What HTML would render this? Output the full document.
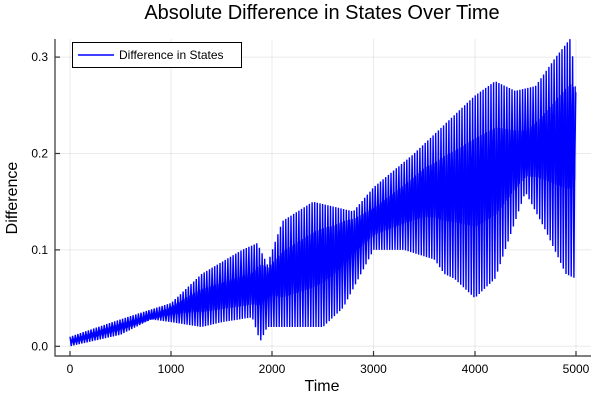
<!DOCTYPE html>
<html><head><style>body{margin:0;background:#fff}svg{display:block;font-family:"Liberation Sans","DejaVu Sans",sans-serif}</style></head>
<body>
<svg id="s" width="600" height="400" xmlns="http://www.w3.org/2000/svg">
<rect width="600" height="400" fill="#fff"/>
<g stroke="#000" stroke-opacity="0.08" stroke-width="1">
<line x1="70" y1="39" x2="70" y2="356"/><line x1="171" y1="39" x2="171" y2="356"/><line x1="272" y1="39" x2="272" y2="356"/><line x1="373.5" y1="39" x2="373.5" y2="356"/><line x1="475" y1="39" x2="475" y2="356"/><line x1="576" y1="39" x2="576" y2="356"/>
<line x1="55" y1="346.3" x2="591" y2="346.3"/><line x1="55" y1="249.9" x2="591" y2="249.9"/><line x1="55" y1="153.5" x2="591" y2="153.5"/><line x1="55" y1="57.1" x2="591" y2="57.1"/>
</g>
<path id="d" fill="none" stroke="#0000ff" stroke-width="1.4" stroke-linejoin="bevel"/>
<path id="e" fill="none" stroke="#0000ff" stroke-width="1.4" stroke-linejoin="bevel"/>
<g stroke="#333" stroke-width="1.2">
<line x1="55" y1="39" x2="55" y2="356.5"/><line x1="54.5" y1="356" x2="591" y2="356"/>
<line x1="55" y1="346.3" x2="60" y2="346.3"/><line x1="55" y1="249.9" x2="60" y2="249.9"/><line x1="55" y1="153.5" x2="60" y2="153.5"/><line x1="55" y1="57.1" x2="60" y2="57.1"/>
<line x1="70" y1="356" x2="70" y2="351"/><line x1="171" y1="356" x2="171" y2="351"/><line x1="272" y1="356" x2="272" y2="351"/><line x1="373.5" y1="356" x2="373.5" y2="351"/><line x1="475" y1="356" x2="475" y2="351"/><line x1="576" y1="356" x2="576" y2="351"/>
</g>
<g font-size="12" fill="#000" text-anchor="end">
<text x="48" y="350.5">0.0</text><text x="48" y="254">0.1</text><text x="48" y="157.5">0.2</text><text x="48" y="61">0.3</text>
</g>
<g font-size="12" fill="#000" text-anchor="middle">
<text x="70" y="373">0</text><text x="171" y="373">1000</text><text x="272" y="373">2000</text><text x="373.5" y="373">3000</text><text x="475" y="373">4000</text><text x="576" y="373">5000</text>
</g>
<text x="322" y="391" font-size="16" text-anchor="middle">Time</text>
<text transform="translate(17,198) rotate(-90)" font-size="16" text-anchor="middle">Difference</text>
<text x="322" y="19" font-size="20" text-anchor="middle">Absolute Difference in States Over Time</text>
<rect x="72.5" y="42.5" width="169" height="25" fill="#fff" stroke="#000" stroke-width="1"/>
<line x1="78" y1="55" x2="114" y2="55" stroke="#0000ff" stroke-width="1.5"/>
<text x="119" y="59" font-size="12">Difference in States</text>
</svg>
<script>
var U=[[0,.01],[500,.028],[1000,.045],[1300,.075],[1700,.1],[1850,.107],[1950,.085],[2100,.13],[2400,.15],[2800,.14],[3000,.165],[3400,.2],[3700,.23],[4000,.26],[4200,.275],[4400,.265],[4600,.27],[4800,.3],[4950,.32],[5000,.26]];
var L=[[0,0],[500,.012],[800,.028],[1000,.025],[1300,.02],[1500,.025],[1800,.03],[1880,.005],[1950,.02],[2500,.02],[2700,.04],[2800,.06],[3000,.1],[3300,.1],[3600,.09],[3700,.075],[3800,.07],[4000,.05],[4200,.07],[4500,.16],[4700,.12],[4900,.075],[5000,.07]];
var M=[[0,.005],[800,.03],[1200,.045],[1800,.06],[2200,.08],[2600,.1],[3000,.13],[3500,.16],[4000,.17],[4500,.2],[5000,.22]];
function f(a,t){for(var i=1;i<a.length;i++)if(t<=a[i][0]){var k=(t-a[i-1][0])/(a[i][0]-a[i-1][0]);return a[i-1][1]+k*(a[i][1]-a[i-1][1]);}return a[a.length-1][1];}
var X=function(t){return 70+t*0.1012},Y=function(v){return 346.3-v*964};
var p="",q="",n=0;
for(var t=0;t<=5000;t+=13){var u=f(U,t),l=f(L,t),m=f(M,t);
var v=(n%2==0)?u:l;
p+=(n?"L":"M")+X(t).toFixed(1)+" "+Y(v).toFixed(1);
var w=(u-l)*0.22;var v2=(n%2==0)?Math.min(u,m+w):Math.max(l,m-w);
q+=(n?"L":"M")+X(t+6).toFixed(1)+" "+Y(v2).toFixed(1);n++;}
document.getElementById("d").setAttribute("d",p);
document.getElementById("e").setAttribute("d",q);
</script>
</body></html>
